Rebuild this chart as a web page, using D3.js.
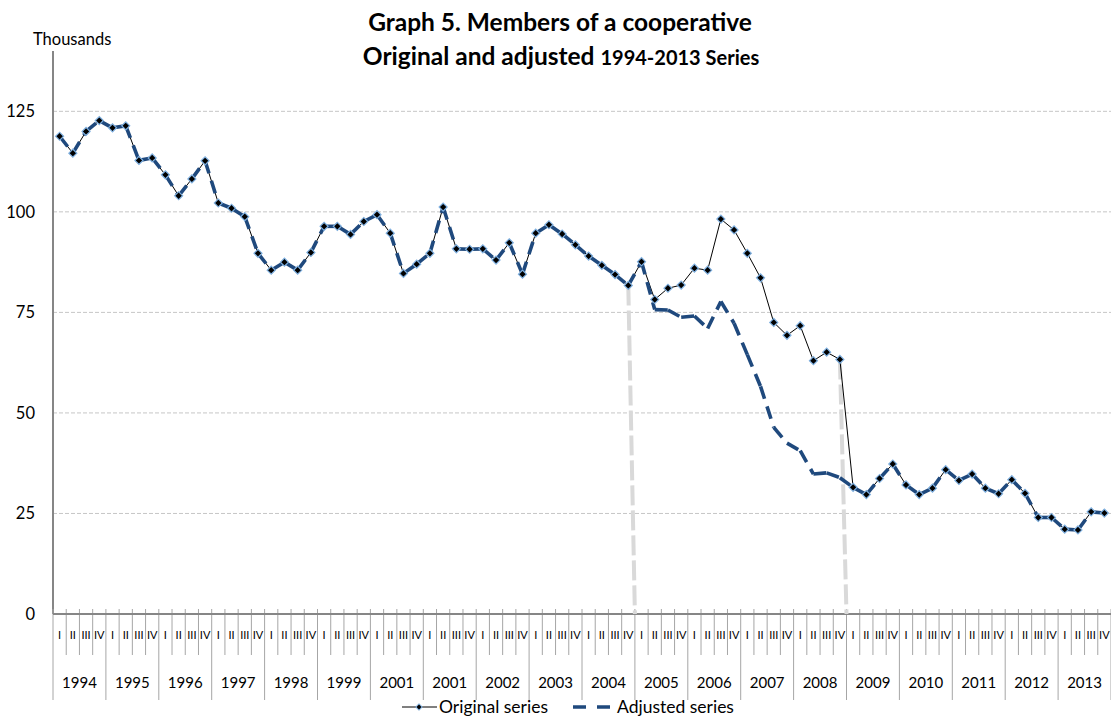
<!DOCTYPE html>
<html>
<head>
<meta charset="utf-8">
<script src="https://cdn.jsdelivr.net/npm/d3@7"></script>
<style>
  body { margin: 0; background: #fff; }
  svg { display: block; font-family: Lato, "Open Sans", sans-serif; }
</style>
</head>
<body>
<div id="chart"></div>
<script>
// data (thousands, quarterly 1994-2013)
var years = ["1994", "1995", "1996", "1997", "1998", "1999", "2001", "2001", "2002", "2003",
             "2004", "2005", "2006", "2007", "2008", "2009", "2010", "2011", "2012", "2013"];
var quarters = ["I", "II", "III", "IV"];

var original = [118.8, 114.6, 120.0, 122.7, 120.9, 121.4, 112.8, 113.4, 109.2, 104.0,
                108.2, 112.7, 102.2, 100.9, 98.8, 89.7, 85.5, 87.5, 85.5, 89.9,
                96.4, 96.4, 94.4, 97.6, 99.3, 94.7, 84.7, 87.0, 89.7, 101.2,
                90.8, 90.7, 90.8, 88.0, 92.3, 84.5, 94.7, 96.8, 94.5, 91.8,
                89.0, 86.7, 84.4, 81.7, 87.6, 78.2, 81.0, 81.8, 86.0, 85.5,
                98.2, 95.5, 89.7, 83.6, 72.5, 69.3, 71.7, 63.0, 65.1, 63.3,
                31.5, 29.7, 33.7, 37.3, 32.1, 29.7, 31.3, 35.9, 33.2, 34.8,
                31.3, 29.9, 33.4, 30.0, 24.0, 24.0, 21.1, 20.9, 25.4, 25.1];

var adjusted = [118.8, 114.6, 120.0, 122.7, 120.9, 121.4, 112.8, 113.4, 109.2, 104.0,
                108.2, 112.7, 102.2, 100.9, 98.8, 89.7, 85.5, 87.5, 85.5, 89.9,
                96.4, 96.4, 94.4, 97.6, 99.3, 94.7, 84.7, 87.0, 89.7, 101.2,
                90.8, 90.7, 90.8, 88.0, 92.3, 84.5, 94.7, 96.8, 94.5, 91.8,
                89.0, 86.7, 84.4, 81.7, 87.6, 75.7, 75.6, 73.8, 74.1, 71.0,
                77.7, 72.3, 64.5, 56.6, 46.4, 42.5, 40.6, 34.8, 35.1, 33.9,
                31.5, 29.7, 33.7, 37.3, 32.1, 29.7, 31.3, 35.9, 33.2, 34.8,
                31.3, 29.9, 33.4, 30.0, 24.0, 24.0, 21.1, 20.9, 25.4, 25.1];

// quarters where the grey drop lines start
var breaks = [43, 59];
var yTicks = [0, 25, 50, 75, 100, 125];

var width = 1111,
    height = 717,
    plotLeft = 53,
    plotRight = 1111,
    plotTop = 51,
    plotBottom = 614;

var svg = d3.select("#chart").append("svg")
    .attr("width", width)
    .attr("height", height);

var x = d3.scaleBand()
    .domain(d3.range(original.length))
    .range([plotLeft, plotRight]);

var y = d3.scaleLinear()
    .domain([0, 140])
    .range([plotBottom, plotTop]);

var step = x.step();
function cx(i) { return x(i) + x.bandwidth() / 2; }

// title
var title = svg.append("text")
    .attr("text-anchor", "middle")
    .attr("font-weight", "bold")
    .attr("fill", "#000");
title.append("tspan")
    .attr("x", 560).attr("y", 31)
    .attr("font-size", 24.5)
    .text("Graph 5. Members of a cooperative");
var t2 = title.append("tspan")
    .attr("x", 561).attr("y", 65)
    .attr("font-size", 24.5)
    .text("Original and adjusted ");
t2.append("tspan")
    .attr("font-size", 20)
    .text("1994-2013 Series");

svg.append("text")
    .attr("x", 33).attr("y", 45)
    .attr("font-size", 16.5)
    .text("Thousands");

// gridlines
svg.append("g")
    .selectAll("line")
    .data(yTicks.filter(function (d) { return d > 0; }))
    .enter().append("line")
    .attr("x1", plotLeft).attr("x2", plotRight)
    .attr("y1", function (d) { return y(d); })
    .attr("y2", function (d) { return y(d); })
    .attr("stroke", "#c6c6c6")
    .attr("stroke-dasharray", "4,2");

// y axis
var yAxis = svg.append("g")
    .attr("transform", "translate(" + plotLeft + ",0)")
    .call(d3.axisLeft(y).tickValues(yTicks).tickSize(0).tickPadding(18));
yAxis.select(".domain").remove();
yAxis.selectAll("text")
    .attr("font-family", "Lato, sans-serif")
    .attr("font-size", 16.5)
    .attr("fill", "#000");

svg.append("line")
    .attr("x1", plotLeft).attr("x2", plotLeft)
    .attr("y1", plotTop).attr("y2", plotBottom)
    .attr("stroke", "#868686")
    .attr("stroke-width", 2);

// x axis: quarter ticks, separators, labels
var bounds = d3.range(original.length + 1);
svg.append("g")
    .selectAll("line")
    .data(bounds)
    .enter().append("line")
    .attr("x1", function (k) { return plotLeft + k * step; })
    .attr("x2", function (k) { return plotLeft + k * step; })
    .attr("y1", plotBottom - 5)
    .attr("y2", function (k) { return k % 4 === 0 ? 700 : 655; })
    .attr("stroke", "#a6a6a6")
    .attr("stroke-width", 1);

svg.append("line")
    .attr("x1", plotLeft).attr("x2", plotRight)
    .attr("y1", plotBottom).attr("y2", plotBottom)
    .attr("stroke", "#868686")
    .attr("stroke-width", 2);

svg.append("g")
    .selectAll("text")
    .data(d3.range(original.length))
    .enter().append("text")
    .attr("x", function (i) { return cx(i); })
    .attr("y", 639)
    .attr("text-anchor", "middle")
    .attr("font-size", 11)
    .text(function (i) { return quarters[i % 4]; });

svg.append("g")
    .selectAll("text")
    .data(years)
    .enter().append("text")
    .attr("x", function (d, j) { return x(j * 4) + step * 2; })
    .attr("y", 687.5)
    .attr("text-anchor", "middle")
    .attr("font-size", 15)
    .text(function (d) { return d; });

// grey drop lines at the series breaks
svg.append("g")
    .selectAll("line")
    .data(breaks)
    .enter().append("line")
    .attr("x1", function (b) { return cx(b); })
    .attr("y1", function (b) { return y(original[b]); })
    .attr("x2", function (b) { return x(b) + step; })
    .attr("y2", plotBottom)
    .attr("stroke", "#d9d9d9")
    .attr("stroke-width", 4)
    .attr("stroke-dasharray", "20,5");

// original series line
var line = d3.line()
    .x(function (d, i) { return cx(i); })
    .y(function (d) { return y(d); });

svg.append("path")
    .datum(original)
    .attr("d", line)
    .attr("fill", "none")
    .attr("stroke", "#000")
    .attr("stroke-width", 1);

// adjusted series: dashes restart at every point
var segs = d3.range(adjusted.length - 1);
svg.append("g")
    .selectAll("line")
    .data(segs)
    .enter().append("line")
    .attr("x1", function (i) { return cx(i); })
    .attr("y1", function (i) { return y(adjusted[i]); })
    .attr("x2", function (i) { return cx(i + 1); })
    .attr("y2", function (i) { return y(adjusted[i + 1]); })
    .attr("stroke", "#1f497d")
    .attr("stroke-width", 3.6)
    .attr("stroke-dasharray", "13,8");

// markers
var diamond = d3.symbol().type(d3.symbolSquare).size(32);
svg.append("g")
    .selectAll("path")
    .data(original)
    .enter().append("path")
    .attr("d", diamond)
    .attr("transform", function (d, i) { return "translate(" + cx(i) + "," + y(d) + ") rotate(45)"; })
    .attr("fill", "#000")
    .attr("stroke", "#7fb0e0")
    .attr("stroke-width", 1.2);

// legend
var lg = svg.append("g");
lg.append("line")
    .attr("x1", 402).attr("x2", 437)
    .attr("y1", 707).attr("y2", 707)
    .attr("stroke", "#000");
lg.append("path")
    .attr("d", d3.symbol().type(d3.symbolSquare).size(20))
    .attr("transform", "translate(419,707) rotate(45)")
    .attr("fill", "#000")
    .attr("stroke", "#7fb0e0");
lg.append("text")
    .attr("x", 439).attr("y", 713)
    .attr("font-size", 17.5)
    .text("Original series");
lg.append("line")
    .attr("x1", 573).attr("x2", 611)
    .attr("y1", 707).attr("y2", 707)
    .attr("stroke", "#1f497d")
    .attr("stroke-width", 3.6)
    .attr("stroke-dasharray", "13,11");
lg.append("text")
    .attr("x", 617).attr("y", 713)
    .attr("font-size", 17.5)
    .text("Adjusted series");
</script>
</body>
</html>
